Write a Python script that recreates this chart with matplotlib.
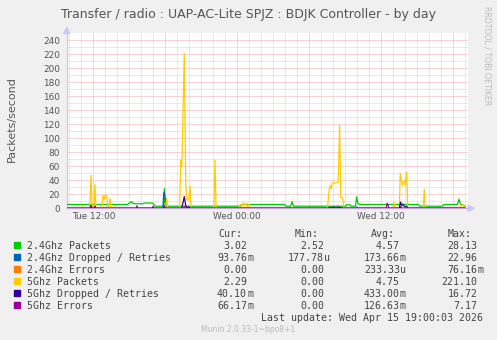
import numpy as np
import matplotlib
matplotlib.use("Agg")
import matplotlib.pyplot as plt
from matplotlib.patches import Rectangle, Polygon

# time in hours since Tue 00:00, values in packets/second
pk24_t = [9.78, 14.85, 15.0, 15.2, 15.3, 15.4, 16.15, 16.25, 16.95, 17.05, 17.15, 17.85, 17.92, 18.0,
          24.3, 24.4, 27.95, 28.05, 28.45, 28.56, 28.68, 33.05, 33.1, 33.4, 33.45, 33.85, 33.95, 34.05,
          34.2, 39.1, 39.2, 41.1, 41.2, 42.35, 42.47, 42.6, 42.8, 42.97]
pk24_v = [5.5, 5.5, 7.5, 9.5, 7.0, 6.5, 6.5, 7.5, 7.5, 5.0, 3.0, 3.0, 28.1, 3.0,
          3.0, 5.5, 5.5, 3.0, 3.0, 9.5, 3.0, 3.0, 5.0, 5.0, 3.0, 3.0, 16.5, 7.0,
          5.5, 5.5, 3.0, 3.0, 5.5, 5.5, 13.0, 6.0, 4.5, 3.02]

dr24_t = [9.78, 17.8, 17.86, 17.92, 18.0, 18.08, 33.88, 33.95, 34.02, 42.97]
dr24_v = [0.1, 0.1, 20.0, 23.0, 12.0, 0.1, 0.1, 2.0, 0.1, 0.09]

err24_t = [9.78, 17.9, 17.95, 18.0, 42.97]
err24_v = [0.0, 0.0, 0.08, 0.0, 0.0]

pk5_t = [9.78, 11.05, 11.14, 11.25, 11.7, 11.81, 11.9, 12.05, 12.14, 12.22,
         12.7, 12.81, 12.9, 13.0, 13.14, 13.22, 13.3, 13.39, 13.47, 13.75, 13.81, 13.88,
         18.02, 18.12, 18.2, 19.2, 19.28, 19.38, 19.58, 19.7, 19.78, 19.95, 20.06, 20.15,
         22.05, 22.14, 22.23, 24.1, 24.25, 24.35, 24.5, 24.6, 24.75, 24.85, 25.0, 25.1,
         31.5, 31.58, 31.65, 31.75, 31.83, 31.92, 32.0, 32.4, 32.53, 32.62, 32.75, 32.82, 32.9,
         37.0, 37.08, 37.16, 37.5, 37.58, 37.67, 37.75, 37.83, 37.92, 38.0, 38.12, 38.2,
         39.5, 39.58, 39.67, 42.5, 42.6, 42.7, 42.8, 42.9, 42.97]
pk5_v = [0.0, 0.0, 3.0, 0.0, 0.0, 47.0, 2.0, 2.0, 34.0, 0.0,
         0.0, 18.0, 12.0, 20.0, 16.0, 0.0, 0.0, 14.0, 0.0, 0.0, 4.0, 0.0,
         0.0, 15.0, 0.0, 0.0, 69.0, 60.0, 221.1, 40.0, 12.0, 12.0, 32.0, 0.0,
         0.0, 69.0, 0.0, 0.0, 6.0, 2.0, 8.0, 3.0, 7.0, 2.0, 6.0, 0.0,
         0.0, 12.0, 26.0, 33.0, 28.0, 36.0, 36.0, 37.0, 119.0, 15.0, 15.0, 8.0, 0.0,
         0.0, 8.0, 0.0, 0.0, 50.0, 40.0, 33.0, 36.0, 40.0, 33.0, 52.0, 0.0,
         0.0, 27.0, 0.0, 0.0, 5.0, 3.0, 5.0, 2.0, 2.29]

dr5_t = [9.78, 11.72, 11.81, 11.9, 12.08, 12.14, 12.22, 17.85, 17.92, 18.0,
         19.35, 19.45, 19.58, 19.7, 19.8, 19.95, 20.1, 31.6, 31.7, 31.85, 32.0, 32.2,
         32.4, 32.6, 32.8, 37.5, 37.6, 37.7, 37.8, 37.95, 38.1, 38.2, 42.97]
dr5_v = [0.0, 0.0, 4.0, 0.0, 0.0, 2.5, 0.0, 0.0, 3.0, 0.0,
         0.0, 6.0, 16.7, 4.0, 1.0, 2.0, 0.0, 0.0, 1.5, 0.5, 2.0, 0.5,
         2.0, 1.0, 0.0, 0.0, 9.0, 4.0, 6.0, 2.0, 3.0, 0.0, 0.04]

err5_t = [9.78, 11.75, 11.81, 11.88, 12.1, 12.14, 12.2, 15.58, 15.64, 15.7, 16.92, 16.98, 17.05,
          17.88, 17.92, 17.98, 19.52, 19.58, 19.65, 36.4, 36.48, 36.56, 36.62, 37.55, 37.62, 37.7, 42.97]
err5_v = [0.0, 0.0, 3.5, 0.0, 0.0, 3.0, 0.0, 0.0, 3.5, 0.0, 0.0, 3.0, 0.0,
          0.0, 3.0, 0.0, 0.0, 2.5, 0.0, 0.0, 7.2, 5.0, 0.0, 0.0, 3.0, 0.0, 0.07]

labels = ["2.4Ghz Packets", "2.4Ghz Dropped / Retries", "2.4Ghz Errors",
          "5Ghz Packets", "5Ghz Dropped / Retries", "5Ghz Errors"]
colors = ["#00CC00", "#0066B3", "#FF8000", "#FFCC00", "#330099", "#990099"]
cur = ["3.02", "93.76m", "0.00", "2.29", "40.10m", "66.17m"]
mins = ["2.52", "177.78u", "0.00", "0.00", "0.00", "0.00"]
avgs = ["4.57", "173.66m", "233.33u", "4.75", "433.00m", "126.63m"]
maxs = ["28.13", "22.96", "76.16m", "221.10", "16.72", "7.17"]

xticks = [12, 24, 36]
xticklabels = ["Tue 12:00", "Wed 00:00", "Wed 12:00"]

W, H = 497, 340
plt.rcParams["lines.scale_dashes"] = False


def fx(x):
    return x / W


def fy(y):
    return 1 - y / H


fig = plt.figure(figsize=(W / 100, H / 100), dpi=100, facecolor="#F0F0F0")
ax = fig.add_axes([fx(66.7), fy(208.3), (468 - 66.7) / W, (208.3 - 33.3) / H])
ax.set_facecolor("white")
ax.set_xlim(9.783, 43.225)
ax.set_ylim(0, 250)

# grid: 1px dotted
gkw = dict(lw=0.72, ls=(0, (0.72, 0.72)), zorder=1)
for h in np.arange(10, 44, 1):
    if h % 6 == 0:
        continue
    ax.axvline(h, color="#d4d4d4", **gkw)
for h in np.arange(12, 44, 6):
    ax.axvline(h, color="#f0a8a8", **gkw)
for v in np.arange(10, 250, 20):
    ax.axhline(v, color="#d4d4d4", **gkw)
for v in np.arange(20, 250, 20):
    ax.axhline(v, color="#f0a8a8", **gkw)

series = [(pk24_t, pk24_v), (dr24_t, dr24_v), (err24_t, err24_v),
          (pk5_t, pk5_v), (dr5_t, dr5_v), (err5_t, err5_v)]
for (t, v), c in zip(series, colors):
    ax.plot(t, v, color=c, lw=0.9, zorder=3)

for s in ["top", "right"]:
    ax.spines[s].set_visible(False)
ax.spines["left"].set_color("#c8c8f0")
ax.spines["bottom"].set_color("#c8a0e0")
ax.spines["left"].set_linewidth(0.8)
ax.spines["bottom"].set_linewidth(0.8)

ax.set_yticks(range(0, 241, 20))
ax.set_xticks(xticks)
ax.set_xticklabels(xticklabels)
ax.tick_params(axis="y", length=0, pad=4.8, labelsize=6.4, labelcolor="#555555")
ax.tick_params(axis="x", length=0, pad=2.6, labelsize=6.4, labelcolor="#555555")

# axis arrows
fig.add_artist(Polygon([[fx(63.7), fy(33.5)], [fx(69.7), fy(33.5)], [fx(66.7), fy(27.5)]],
                       closed=True, color="#c8c8f8", transform=fig.transFigure))
fig.add_artist(Polygon([[fx(468), fy(205.3)], [fx(468), fy(211.3)], [fx(474), fy(208.3)]],
                       closed=True, color="#c8c8f8", transform=fig.transFigure))

fig.text(fx(248.5), fy(18.3), "Transfer / radio : UAP-AC-Lite SPJZ : BDJK Controller - by day",
         ha="center", va="baseline", fontsize=9, color="#555555")
fig.text(fx(11.5), fy(119), "Packets/second", rotation=90, ha="center", va="center",
         fontsize=8, color="#555555")
fig.text(fx(487.5), fy(56), "RRDTOOL / TOBI OETIKER", rotation=-90, ha="center", va="center",
         fontsize=5.6, color="#bbbbbb")

mono = "DejaVu Sans Mono"
lfs = 7.1
tc = "#444444"
for x, s in zip([218, 295, 371, 448], ["Cur:", "Min:", "Avg:", "Max:"]):
    fig.text(fx(x), fy(237.3), s, family=mono, fontsize=lfs, color=tc, va="baseline")


def split(s):
    if s[-1] in "mu":
        return s[:-1], s[-1]
    return s, ""


for i in range(6):
    yb = 248.7 + 12 * i
    fig.add_artist(Rectangle((fx(14), fy(248.3 + 12 * i)), 6 / W, 6 / H, color=colors[i],
                             transform=fig.transFigure))
    fig.text(fx(26.7), fy(yb), labels[i], family=mono, fontsize=lfs, color=tc, va="baseline")
    for xe, col in zip([247, 324, 400, 477.3], [cur, mins, avgs, maxs]):
        num, suf = split(col[i])
        fig.text(fx(xe), fy(yb), num, family=mono, fontsize=lfs, color=tc, va="baseline", ha="right")
        if suf:
            fig.text(fx(xe), fy(yb), suf, family=mono, fontsize=lfs, color=tc, va="baseline")

fig.text(fx(483.3), fy(321), "Last update: Wed Apr 15 19:00:03 2026", family=mono, fontsize=lfs,
         color=tc, va="baseline", ha="right")
fig.text(fx(248), fy(332), "Munin 2.0.33-1~bpo8+1", fontsize=5.5, color="#bbbbbb",
         va="baseline", ha="center")

fig.savefig("out.png", dpi=100, facecolor=fig.get_facecolor())
